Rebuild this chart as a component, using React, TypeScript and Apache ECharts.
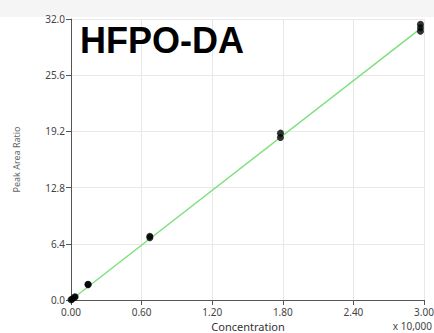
import React, { useEffect, useRef } from "react";
import * as echarts from "echarts";

const title = "HFPO-DA";
const xName = "Concentration";
const yName = "Peak Area Ratio";
const xTicks = [0, 0.6, 1.2, 1.8, 2.4, 3.0];
const concentration = [0.0, 0.01, 0.03, 0.035, 0.145, 0.145, 0.67, 0.67, 1.78, 1.78, 2.97, 2.97, 2.97];
const peakAreaRatio = [0.02, 0.1, 0.3, 0.38, 1.75, 1.8, 7.1, 7.25, 18.5, 19.0, 30.6, 31.0, 31.4];
const fitX = [0, 2.97];
const fitY = [0, 30.9];

export default function App() {
  const ref = useRef<HTMLDivElement>(null);
  useEffect(() => {
    if (!ref.current) return;
    const chart = echarts.init(ref.current, null, { renderer: "svg" });
    const labelFont = "'Noto Sans', 'Open Sans', sans-serif";
    chart.setOption({
      animation: false,
      backgroundColor: "#ffffff",
      grid: { left: 71, top: 19, right: 10, bottom: 33, containLabel: false, outerBoundsMode: "none" },
      graphic: [
        { type: "rect", z: -10, shape: { x: 0, y: 0, width: 434, height: 17 }, style: { fill: "#f5f5f5" } },
        {
          type: "text",
          left: 80,
          top: 22,
          style: { text: title, font: "bold 36px 'Liberation Sans', Arial, sans-serif", fill: "#000" },
          z: 10,
        },
        {
          type: "text",
          x: 248,
          y: 320,
          style: {
            text: xName,
            font: `11px ${labelFont}`,
            lineHeight: 12,
            fill: "#333",
            align: "center",
            verticalAlign: "top",
          },
        },
        {
          type: "text",
          right: 2,
          top: 321,
          style: { text: "x 10,000", font: `10px ${labelFont}`, fill: "#444" },
        },
      ],
      xAxis: {
        type: "value",
        min: 0,
        max: 3,
        interval: 0.6,
        axisLine: { show: true, lineStyle: { color: "#555", width: 1 } },
        axisTick: { show: true, length: 5, lineStyle: { color: "#555" } },
        axisLabel: {
          fontSize: 10,
          lineHeight: 11,
          color: "#444",
          fontFamily: labelFont,
          margin: 6,
          formatter: (v: number) => v.toFixed(2),
          customValues: xTicks,
        },
        splitLine: { show: true, lineStyle: { color: "#e8e8e8" } },
      },
      yAxis: {
        type: "value",
        min: 0,
        max: 32,
        interval: 6.4,
        name: yName,
        nameLocation: "middle",
        nameGap: 50,
        nameRotate: 90,
        nameTextStyle: { fontSize: 9, color: "#666", fontFamily: labelFont },
        axisLine: { show: true, lineStyle: { color: "#555", width: 1 } },
        axisTick: { show: true, length: 5, lineStyle: { color: "#555" } },
        axisLabel: {
          fontSize: 10,
          color: "#444",
          fontFamily: labelFont,
          margin: 6,
          formatter: (v: number) => v.toFixed(1),
        },
        splitLine: { show: true, lineStyle: { color: "#e8e8e8" } },
      },
      series: [
        {
          type: "line",
          data: fitX.map((x, i) => [x, fitY[i]]),
          symbol: "none",
          lineStyle: { color: "#7fe07f", width: 1.5 },
          z: 2,
        },
        {
          type: "scatter",
          data: concentration.map((x, i) => [x, peakAreaRatio[i]]),
          symbol: "circle",
          symbolSize: 7,
          itemStyle: { color: "#000" },
          z: 3,
        },
      ],
    });
    return () => chart.dispose();
  }, []);
  return <div ref={ref} style={{ width: 434, height: 333, position: "absolute", left: 0, top: 0 }} />;
}
